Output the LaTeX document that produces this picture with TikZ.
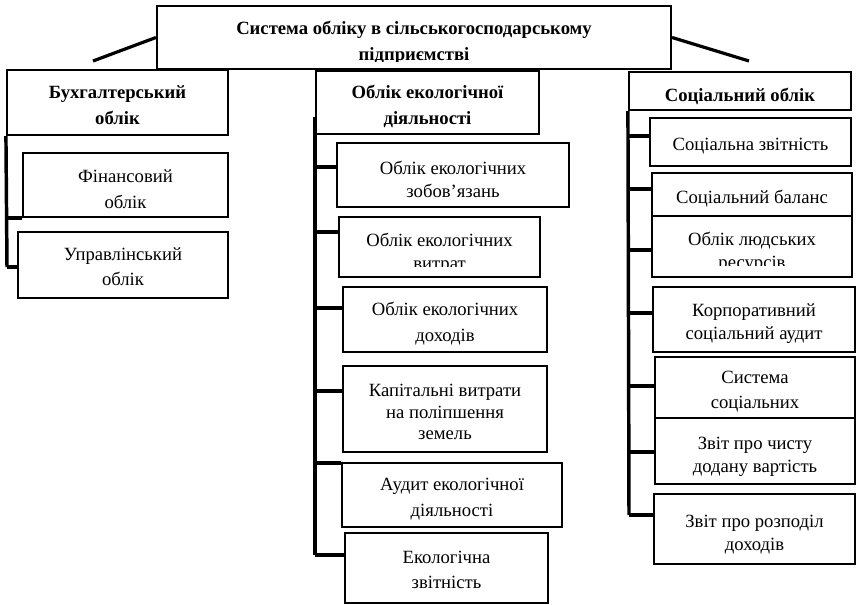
\documentclass[tikz,border=0pt]{standalone}
\usepackage{fontspec}
\setmainfont{Liberation Serif}
\usetikzlibrary{fit}

\begin{document}
\begin{tikzpicture}[x=0.75pt, y=-0.75pt,
    box/.style={draw, line width=1.6pt, inner sep=0pt},
    txt/.style={inner sep=0pt, align=center, yshift=-3.2pt,
      font=\fontsize{14}{19}\selectfont},
    tight/.style={font=\fontsize{14}{17}\selectfont},
    headtxt/.style={txt, font=\fontsize{14}{19.5}\selectfont\bfseries},
    bus/.style={line width=2.6pt}]
  \useasboundingbox (0,0) rectangle (857,605);

  % Top box (its second line is cut by the box)
  \node[box, fit={(157,6) (671,69)}] (sys) {};
  \begin{scope}
    \clip (sys.north west) rectangle ([yshift=6.6pt]sys.south east);
    \node[headtxt, yshift=-1pt] (sys-t) at (sys.center)
      {Система обліку в сільськогосподарському\\підприємстві};
  \end{scope}
  % Short slanted strokes from the top box
  \coordinate (sys-l) at (93,61);
  \coordinate (sys-r) at (749,61);
  \draw[bus, line width=2.4pt] (sys.west) -- (sys-l);
  \draw[bus, line width=2.4pt] (sys.east) -- (sys-r);

  % Left column
  \node[box, fit={(7,70) (228,135)}] (buh) {};
  \node[headtxt, yshift=1pt] (buh-t) at (buh.center) {Бухгалтерський\\облік};
  \node[box, fit={(23,153) (228,217)}] (fin) {};
  \node[txt] (fin-t) at (fin.center) {Фінансовий\\облік};
  \node[box, fit={(18,232) (228,298)}] (upr) {};
  \node[txt, yshift=2pt] (upr-t) at (upr.center) {Управлінський\\облік};
  \coordinate (lb1) at (7,218);
  \coordinate (lb2) at (7,267);
  \draw[bus] (buh.south west) -- (lb2);
  \draw[bus] (lb1) -- (lb1 -| fin.west);
  \draw[bus] (lb2) -- (lb2 -| upr.west);

  % Middle column
  \node[box, fit={(316,71) (539,134)}] (eko) {};
  \node[headtxt] (eko-t) at (eko.center) {Облік екологічної\\діяльності};
  \node[box, fit={(337,143) (569,207)}] (zob) {};
  \node[txt, tight] (zob-t) at (zob.center) {Облік екологічних\\зобов’язань};
  \node[box, fit={(339,217) (540,277)}] (vyt) {};
  \begin{scope}
    \clip (vyt.north west) rectangle ([yshift=8.3pt]vyt.south east);
    \node[txt, tight, yshift=-1.3pt] (vyt-t) at (vyt.center) {Облік екологічних\\витрат};
  \end{scope}
  \node[box, fit={(343,287) (547,352)}] (doh) {};
  \node[txt] (doh-t) at (doh.center) {Облік екологічних\\доходів};
  \node[box, fit={(343,366) (547,452)}] (kap) {};
  \node[txt, font=\fontsize{14}{16.3}\selectfont, yshift=1pt] (kap-t) at (kap.center)
    {Капітальні витрати\\на поліпшення\\земель};
  \node[box, fit={(342,463) (562,527)}] (aud) {};
  \node[txt] (aud-t) at (aud.center) {Аудит екологічної\\діяльності};
  \node[box, fit={(345,533) (548,603)}] (ezv) {};
  \node[txt, yshift=2pt] (ezv-t) at (ezv.center) {Екологічна\\звітність};
  \coordinate (mtop) at (315,117);
  \coordinate (mb1) at (315,167);
  \coordinate (mb2) at (315,232);
  \coordinate (mb3) at (315,308);
  \coordinate (mb4) at (315,391);
  \coordinate (mb5) at (315,463);
  \coordinate (mb6) at (315,555);
  \draw[bus] (mtop) -- (mb6);
  \draw[bus] (mb1) -- (mb1 -| zob.west);
  \draw[bus] (mb2) -- (mb2 -| vyt.west);
  \draw[bus] (mb3) -- (mb3 -| doh.west);
  \draw[bus] (mb4) -- (mb4 -| kap.west);
  \draw[bus] (mb5) -- (mb5 -| aud.west);
  \draw[bus] (mb6) -- (mb6 -| ezv.west);

  % Right column
  \node[box, fit={(629,72) (851,110)}] (soc) {};
  \node[headtxt, yshift=-1pt] (soc-t) at (soc.center) {Соціальний облік};
  \node[box, fit={(650,118) (851,166)}] (szv) {};
  \node[txt] (szv-t) at (szv.center) {Соціальна звітність};
  \node[box, fit={(652,173) (852,216)}] (sbal) {};
  \node[txt] (sbal-t) at (sbal.center) {Соціальний баланс};
  \node[box, fit={(652,216) (852,277)}] (lud) {};
  \begin{scope}
    \clip (lud.north west) rectangle ([yshift=9.5pt]lud.south east);
    \node[txt, tight, yshift=-1.3pt] (lud-t) at (lud.center) {Облік людських\\ресурсів};
  \end{scope}
  \node[box, fit={(653,287) (855,352)}] (kor) {};
  \node[txt, tight] (kor-t) at (kor.center) {Корпоративний\\соціальний аудит};
  \node[box, fit={(655,357) (855,418)}] (sys-s) {};
  \node[txt] (sys-s-t) at (sys-s.center) {Система\\соціальних};
  \node[box, fit={(655,418) (855,484)}] (chv) {};
  \node[txt, tight, yshift=-1pt] (chv-t) at (chv.center) {Звіт про чисту\\додану вартість};
  \node[box, fit={(654,494) (855,564)}] (rozp) {};
  \node[txt, tight, yshift=-1pt] (rozp-t) at (rozp.center) {Звіт про розподіл\\доходів};
  \coordinate (rb1) at (629,136);
  \coordinate (rb2) at (629,189);
  \coordinate (rb3) at (629,250);
  \coordinate (rb4) at (629,313);
  \coordinate (rb5) at (629,386);
  \coordinate (rb6) at (629,452);
  \coordinate (rb7) at (629,515);
  \draw[bus] (soc.south west) -- (rb7);
  \draw[bus] (rb1) -- (rb1 -| szv.west);
  \draw[bus] (rb2) -- (rb2 -| sbal.west);
  \draw[bus] (rb3) -- (rb3 -| lud.west);
  \draw[bus] (rb4) -- (rb4 -| kor.west);
  \draw[bus] (rb5) -- (rb5 -| sys-s.west);
  \draw[bus] (rb6) -- (rb6 -| chv.west);
  \draw[bus] (rb7) -- (rb7 -| rozp.west);
\end{tikzpicture}
\end{document}
